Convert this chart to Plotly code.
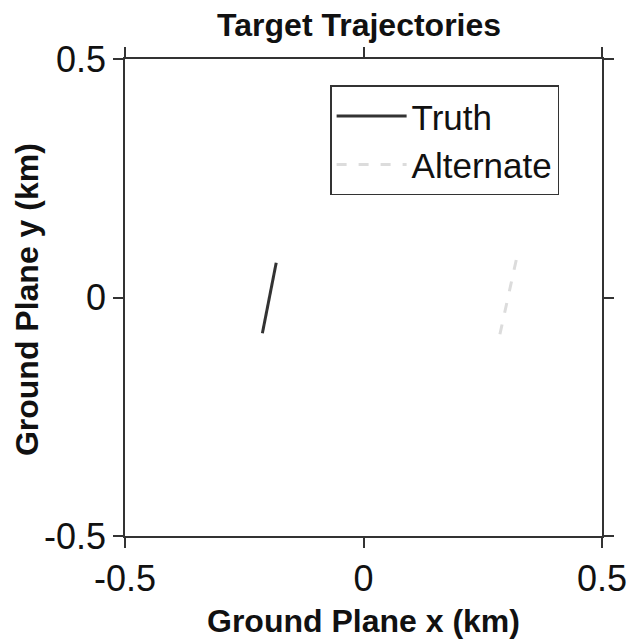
import plotly.graph_objects as go

truth_x = [-0.212, -0.183]
truth_y = [-0.075, 0.073]
alt_x = [0.286, 0.324]
alt_y = [-0.077, 0.096]
tick_vals = [-0.5, 0, 0.5]
tick_text = ["-0.5", "0", "0.5"]

FONT = "Liberation Sans, Arial"
fig = go.Figure()
fig.add_trace(go.Scatter(x=truth_x, y=truth_y, mode="lines", name="Truth",
                         line=dict(color="#333333", width=3)))
fig.add_trace(go.Scatter(x=alt_x, y=alt_y, mode="lines", name="Alternate",
                         line=dict(color="#dcdcdc", width=3, dash="10px,12px")))

axis_common = dict(range=[-0.5, 0.5], tickvals=tick_vals, ticktext=tick_text,
                   automargin=False,
                   showgrid=False, zeroline=False, showline=True, linecolor="#333333",
                   linewidth=1.5, mirror="ticks", ticks="outside", ticklen=10,
                   tickcolor="#333333", tickwidth=1.5,
                   tickfont=dict(size=36, color="#111111", family=FONT))

fig.update_layout(
    width=630, height=641,
    margin=dict(l=125, r=28, t=59, b=105),
    paper_bgcolor="white", plot_bgcolor="white",
    title=dict(text="<b>Target Trajectories</b>", x=0.57, xanchor="center",
               xref="container", yref="container", y=1 - 25 / 641, yanchor="middle",
               font=dict(size=32, color="#111111", family=FONT)),
    xaxis=dict(**axis_common),
    yaxis=dict(**axis_common),
    legend=dict(x=0.43, y=0.945, xanchor="left", yanchor="top",
                bordercolor="#333333", borderwidth=1.5, bgcolor="white",
                font=dict(size=35, color="#111111", family=FONT),
                tracegroupgap=0, itemwidth=70),
    showlegend=True,
    annotations=[
        dict(text="<b>Ground Plane x (km)</b>", xref="paper", yref="paper",
             x=0.5, y=-0.178, xanchor="center", yanchor="middle", showarrow=False,
             font=dict(size=32, color="#111111", family=FONT)),
        dict(text="<b>Ground Plane y (km)</b>", xref="paper", yref="paper",
             x=-0.205, y=0.495, xanchor="center", yanchor="middle", showarrow=False,
             textangle=-90, font=dict(size=32, color="#111111", family=FONT)),
    ],
)
fig.write_html("out.html")
